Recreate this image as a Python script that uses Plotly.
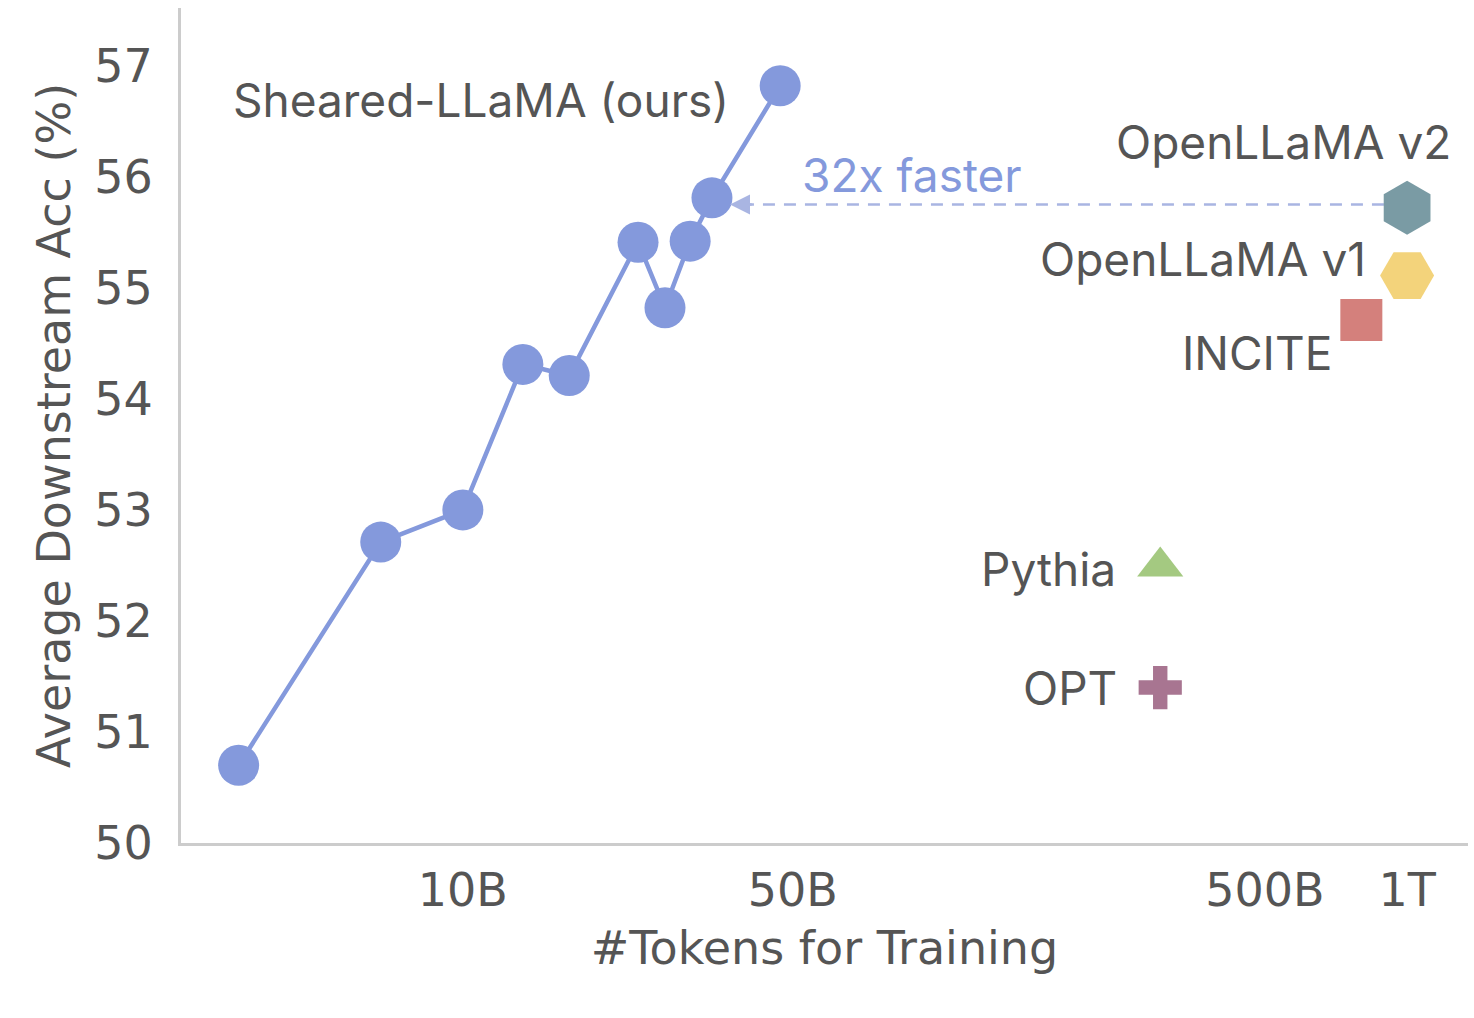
import math
import plotly.graph_objects as go

# Sheared-LLaMA trajectory (tokens in billions, accuracy %)
sheared_tokens = [3.35, 6.7, 10.0, 13.4, 16.8, 23.5, 26.8, 30.3, 33.7, 47.0]
sheared_acc = [50.70, 52.71, 53.00, 54.31, 54.21, 55.41, 54.82, 55.42, 55.81, 56.82]

# Baseline models
models = ["OpenLLaMA v2", "OpenLLaMA v1", "INCITE", "Pythia", "OPT"]
model_tokens = [1000, 1000, 800, 300, 300]
model_acc = [55.72, 55.11, 54.71, 52.49, 51.40]
model_colors = ["#7A9BA4", "#F3D37B", "#D4807C", "#A4C981", "#A87591"]
model_symbols = ["hexagon", "hexagon2", "square", "triangle-up", "cross"]
model_sizes = [54, 54, 42, 40, 36]
label_shift_x = [46, -39, -27, -42, -41]
label_shift_y = [66, 17, -33, -2, 0]

tick_vals = [10, 50, 500, 1000]
tick_text = ["10B", "50B", "500B", "1T"]
y_ticks = [50, 51, 52, 53, 54, 55, 56, 57]

arrow_tail_tokens = 920
arrow_head_tokens = 36.8
arrow_acc = 55.75

main_color = "#8499DC"
text_color = "#555555"
axis_font = "DejaVu Sans"
label_font = "Inter"
fs = 46

fig = go.Figure()

# dashed connector for "32x faster"
fig.add_trace(go.Scatter(
    x=[arrow_head_tokens * 1.06, arrow_tail_tokens], y=[arrow_acc, arrow_acc],
    mode="lines", line=dict(color="#A9B5E2", width=2.5, dash="12px,9px"),
    hoverinfo="skip", showlegend=False))

fig.add_trace(go.Scatter(
    x=sheared_tokens, y=sheared_acc, mode="lines+markers",
    line=dict(color=main_color, width=4.5),
    marker=dict(color=main_color, size=41),
    showlegend=False))

for name, t, a, c, s, sz in zip(models, model_tokens, model_acc, model_colors, model_symbols, model_sizes):
    fig.add_trace(go.Scatter(
        x=[t], y=[a], mode="markers",
        marker=dict(color=c, symbol=s, size=sz, line=dict(width=0)),
        name=name, showlegend=False))

for name, t, a, dx, dy in zip(models, model_tokens, model_acc, label_shift_x, label_shift_y):
    fig.add_annotation(
        x=math.log10(t), y=a, xref="x", yref="y", text=name, showarrow=False,
        xanchor="right", yanchor="middle", xshift=dx, yshift=dy,
        font=dict(family=label_font, size=fs, color=text_color))

fig.add_annotation(
    x=math.log10(sheared_tokens[-1]), y=sheared_acc[-1], xref="x", yref="y",
    text="Sheared-LLaMA (ours)", showarrow=False, xanchor="center", yanchor="middle",
    xshift=-299, yshift=-14,
    font=dict(family=label_font, size=fs, color=text_color))

# arrowhead
fig.add_annotation(
    x=math.log10(arrow_head_tokens), y=arrow_acc, xref="x", yref="y",
    ax=math.log10(arrow_head_tokens * 1.12), ay=arrow_acc, axref="x", ayref="y",
    text="", showarrow=True, arrowhead=2, arrowsize=1.6, arrowwidth=2.5,
    arrowcolor="#A9B5E2", standoff=0)

fig.add_annotation(
    x=math.log10(arrow_head_tokens), y=arrow_acc, xref="x", yref="y",
    text="32x faster", showarrow=False, xanchor="center", yanchor="middle",
    xshift=182, yshift=30,
    font=dict(family=label_font, size=fs, color=main_color))

fig.update_layout(
    width=1474, height=1018,
    margin=dict(l=181, r=6, t=8, b=175),
    plot_bgcolor="white", paper_bgcolor="white",
    xaxis=dict(
        type="log", range=[0.403, 3.129],
        tickvals=tick_vals, ticktext=tick_text,
        showgrid=False, zeroline=False,
        showline=True, linecolor="#CCCCCC", linewidth=3,
        ticks="outside", ticklen=5, tickcolor="rgba(0,0,0,0)",
        tickfont=dict(family=axis_font, size=fs, color=text_color),
        title=dict(text="#Tokens for Training", standoff=16,
                   font=dict(family=axis_font, size=fs, color=text_color)),
    ),
    yaxis=dict(
        range=[50, 57.52], tickvals=y_ticks,
        showgrid=False, zeroline=False,
        showline=True, linecolor="#CCCCCC", linewidth=3,
        ticks="outside", ticklen=16, tickcolor="rgba(0,0,0,0)",
        tickfont=dict(family=axis_font, size=fs, color=text_color),
        title=dict(text="Average Downstream Acc (%)", standoff=10,
                   font=dict(family=axis_font, size=fs, color=text_color)),
    ),
)

fig.write_html("out.html")
